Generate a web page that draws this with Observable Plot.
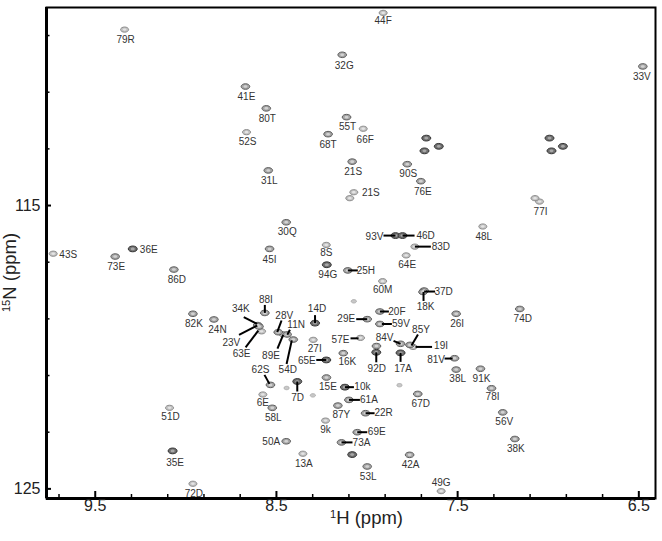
<!DOCTYPE html>
<html><head><meta charset="utf-8">
<script src="https://cdn.jsdelivr.net/npm/d3@7"></script>
<script src="https://cdn.jsdelivr.net/npm/@observablehq/plot@0.6"></script>
<style>
body{margin:0;background:#fff;}
#chart svg{display:block;font-family:"Liberation Sans",Arial,Helvetica,sans-serif;}
</style>
</head><body><div id="chart"></div>
<script>
// ---------------- DATA ----------------
const residue = ["79R","41E","80T","52S","31L","30Q","43S","36E","73E","45I",
  "8S","68T","86D","44F","32G","33V","55T","66F","21S","90S",
  "76E","21S","","77I","","48L","93V","46D","83D","64E",
  "25H","94G","60M","37D","18K","20F","29E","59V","26I","74D",
  "57E","84V","85Y","19I","92D","","17A","16K","81V","38L",
  "91K","10k","15E","61A","87Y","22R","9k","69E","73A","",
  "53L","13A","50A","58L","6E","7D","62S","","","88I",
  "14D","34K","23V","63E","28V","89E","11N","54D","27I","65E",
  "82K","24N","51D","35E","72D","67D","78I","56V","38K","42A",
  "49G","","","","","","","",""];
const hPPM = [9.338,8.671,8.556,8.665,8.545,8.446,9.732,9.293,9.390,8.538,
  8.225,8.215,9.066,7.911,8.137,6.478,8.113,8.021,8.082,7.778,
  7.703,8.073,8.095,7.048,7.073,7.361,7.843,7.804,7.736,7.784,
  8.106,8.222,7.914,7.685,7.691,7.929,7.999,7.929,7.508,7.157,
  8.036,7.815,7.763,7.746,7.949,7.948,7.815,8.131,7.517,7.508,
  7.374,8.122,8.224,8.100,8.161,8.008,8.229,8.054,8.141,8.082,
  7.999,8.354,8.446,8.523,8.575,8.385,8.533,8.444,8.299,8.564,
  8.287,8.603,8.596,8.582,8.490,8.464,8.441,8.407,8.297,8.225,
  8.961,8.845,9.090,9.073,8.961,7.720,7.313,7.251,7.184,7.765,
  7.591,7.821,8.073,7.673,7.604,7.683,6.993,6.919,6.982];
const nPPM = [108.79,110.80,111.57,112.41,113.76,115.59,116.70,116.53,116.80,116.53,
  116.39,112.48,117.26,108.20,109.68,110.09,111.88,112.29,113.45,113.54,
  114.14,114.53,114.74,114.86,114.74,115.74,116.06,116.06,116.45,116.76,
  117.29,117.09,117.67,118.00,118.05,118.74,119.01,119.18,118.82,118.65,
  119.67,119.88,119.92,119.99,120.18,119.96,120.20,120.21,120.39,120.79,
  120.76,121.41,121.07,121.86,122.06,122.33,122.59,123.00,123.36,123.79,
  124.21,123.76,123.32,122.14,121.67,121.21,121.33,121.44,121.70,118.79,
  119.15,119.22,119.27,119.44,119.47,119.54,119.55,119.73,119.74,120.45,
  118.82,119.02,122.14,123.66,124.82,121.65,121.45,122.30,123.24,123.80,
  125.08,121.34,118.38,112.62,112.91,113.07,112.62,112.91,113.07];
// peak intensity class: 0 trace, 1 weak, 2 medium, 3 strong
const intensity = [1,2,2,1,2,2,1,3,2,2,
  1,2,2,1,2,2,2,1,2,2,
  2,1,1,1,1,1,3,3,1,1,
  2,3,1,2,2,2,2,2,2,2,
  1,2,2,1,3,2,3,2,2,2,
  2,3,2,2,2,2,1,2,2,3,
  2,1,2,2,1,3,2,0,0,2,
  3,2,2,1,2,1,2,2,1,3,
  2,2,1,3,1,2,2,2,2,2,
  1,0,0,3,3,3,3,3,3];
const xTickValues = [9.7,9.5,9.3,9.1,8.9,8.7,8.5,8.3,8.1,7.9,7.7,7.5,7.3,7.1,6.9,6.7,6.5];
const xTickLabels = [9.5,8.5,7.5,6.5];
const yTickValues = [109,111,113,115,117,119,121,123,125];
const yTickLabels = [115,125];
const xTitle = "1H (ppm)";
const yTitle = "15N (ppm)";

// ---------------- LAYOUT ----------------
const W = 662, H = 541, mL = 46, mR = 7, mT = 7, mB = 43;
const xDomain = [6.408, 9.769], yDomain = [108.01, 125.34];
const frameW = W - mL - mR, frameH = H - mT - mB;
const hPerPx = (xDomain[1] - xDomain[0]) / frameW;
const nPerPx = (yDomain[1] - yDomain[0]) / frameH;

// label nudges in px relative to the peak (default: centred below)
const defaultNudge = [1, 10];
const labelNudge = {
  "43S":[15,1],"36E":[16,1],"8S":[0,8],"44F":[0,7.5],"21S#2":[17,1],
  "93V":[-21,1],"46D":[23,0],"83D":[26,0],"25H":[18,0],"37D":[19.5,1],
  "18K":[2.5,15],"20F":[17,0],"29E":[-21,0],"59V":[21,0],"57E":[-20,2],
  "84V":[-16,-6],"85Y":[11,-15],"19I":[28,-1],"92D":[0.5,16],"17A":[2.5,15.5],
  "81V":[-18.5,1.5],"10k":[17.5,0],"61A":[20,0],"22R":[18,0],"69E":[19.5,0],
  "73A":[20,0],"50A":[-15,1],"6E":[0,8],"7D":[0.3,16.5],"62S":[-10,-15.5],
  "88I":[1,-13.5],"14D":[2,-14],"34K":[-17,-16],"23V":[-27.7,16],"63E":[-20,22],
  "28V":[6,-16.5],"89E":[-12,22],"11N":[9,-9.5],"54D":[-5.5,30],"65E":[-19.5,0.4],
  "49G":[0,-8],"35E":[2.5,11.5],"15E":[1.5,9.5],"16K":[4,9],"24N":[3.5,10.5],
  "87Y":[3.5,9.5],"9k":[0,9],"60M":[0,9],"64E":[1,9],"51D":[1,9],"78I":[1,9],
  "56V":[1.5,9],"38L":[1.5,9],"27I":[1.5,9],"74D":[3,10],"67D":[3,10],"86D":[3,10],
  "32G":[2,11],"66F":[2,11],"76E":[2,11],"45I":[0,10.5],"68T":[0,10.5],"33V":[-1,10]
};
// leader lines in px relative to the peak [x1,y1,x2,y2]
const leaderNudge = {
  "93V":[-12,0,0,0],"46D":[0,0,12,0],"83D":[0,0,16,0],"25H":[0,0,10,0],
  "37D":[0,1,11,1],"18K":[0.5,0,0.5,9],"20F":[0,0,9,0],"29E":[-11,0,0,0],
  "59V":[2,0,12,0],"57E":[-10,0.5,-2,0.5],"84V":[-7,-3,0,0],"85Y":[8,-10.5,1.5,0.5],
  "19I":[2.5,0,19,0],"92D":[0,0,0,10],"17A":[0,0,0,9],"81V":[-10,0.3,-2,0.3],
  "10k":[0,0,9,0],"61A":[0,0,11,0],"22R":[0,0,9,0],"69E":[0,0,10,0],"73A":[0,0,11,0],
  "7D":[0,0,0,10],"62S":[-6,-10,-1,-1],"88I":[0,-8,0,0],"14D":[0,-8,0,0],
  "34K":[-14,-8,-0.6,-1.2],"23V":[-20,8.3,-1.8,-1],"63E":[-16,16,-3.3,-0.7],
  "28V":[3.3,-11.7,-1,0],"89E":[-5.5,14.5,0.2,0.8],"11N":[2.8,-4.7,0.2,0.3],
  "54D":[-6.7,24.5,-1.5,0.8],"65E":[-10,0,0,0]
};

// ---------------- BUILD ----------------
const seen = {};
const peaks = residue.map((r, i) => {
  let key = r;
  if (r) { seen[r] = (seen[r] || 0) + 1; if (seen[r] > 1) key = r + "#" + seen[r]; }
  return {r, key, h: hPPM[i], n: nPPM[i], k: intensity[i]};
});
const px2h = (p, dx) => p.h - dx * hPerPx;
const px2n = (p, dy) => p.n + dy * nPerPx;

const labels = peaks.filter(p => p.r).map(p => {
  const [dx, dy] = labelNudge[p.key] || defaultNudge;
  return {t: p.r, x: px2h(p, dx), y: px2n(p, dy)};
});
const leaders = peaks.filter(p => leaderNudge[p.key]).map(p => {
  const [a, b, c, d] = leaderNudge[p.key];
  return {x1: px2h(p, a), y1: px2n(p, b), x2: px2h(p, c), y2: px2n(p, d)};
});

function ellipse(aspect) {
  return {draw(ctx, size) {
    const R = Math.sqrt(size / Math.PI), rx = R * aspect, ry = R;
    const k = 0.5523, kx = k * rx, ky = k * ry;
    ctx.moveTo(rx, 0);
    ctx.bezierCurveTo(rx, ky, kx, ry, 0, ry);
    ctx.bezierCurveTo(-kx, ry, -rx, ky, -rx, 0);
    ctx.bezierCurveTo(-rx, -ky, -kx, -ry, 0, -ry);
    ctx.bezierCurveTo(kx, -ry, rx, -ky, rx, 0);
    ctx.closePath();
  }};
}
const ell = ellipse(1.55);
const peakStyle = {
  0: {r: 1.7, fill: "#c8c8c8", stroke: "#b0b0b0", inner: null},
  1: {r: 2.6, fill: "#c2c2c2", stroke: "#8c8c8c", inner: "#e4e4e4"},
  2: {r: 2.8, fill: "#a4a4a4", stroke: "#5e5e5e", inner: "#d2d2d2"},
  3: {r: 2.9, fill: "#6e6e6e", stroke: "#353535", inner: "#a8a8a8"}
};
const peakMarks = [];
for (const k of [0, 1, 2, 3]) {
  const s = peakStyle[k];
  const data = peaks.filter(p => p.k === k);
  peakMarks.push(Plot.dot(data, {x: "h", y: "n", r: s.r, symbol: ell, fill: s.fill, stroke: s.stroke, strokeWidth: 1}));
  if (s.inner) peakMarks.push(Plot.dot(data, {x: "h", y: "n", r: s.r * 0.45, symbol: ell, fill: s.inner, stroke: "none"}));
}

const isMajorX = v => xTickLabels.some(t => Math.abs(t - v) < 1e-6);
const isMajorY = v => yTickLabels.includes(v);

const chart = Plot.plot({
  width: W, height: H,
  marginLeft: mL, marginRight: mR, marginTop: mT, marginBottom: mB,
  x: {domain: xDomain, reverse: true, axis: null},
  y: {domain: yDomain, reverse: true, axis: null},
  style: {fontFamily: '"Liberation Sans", Arial, Helvetica, sans-serif', background: "#fff"},
  marks: [
    ...peakMarks,
    Plot.link(leaders, {x1: "x1", y1: "y1", x2: "x2", y2: "y2", stroke: "#000", strokeWidth: 2}),
    Plot.text(labels, {x: "x", y: "y", text: "t", fontSize: 10, fill: "#333"}),
    Plot.frame({stroke: "#000", strokeWidth: 2}),
    Plot.ruleX([xDomain[1]], {stroke: "#000", strokeWidth: 3}),
    Plot.ruleY([yDomain[1]], {stroke: "#000", strokeWidth: 3}),
    Plot.tickX(xTickValues.filter(v => !isMajorX(v)), {x: d => d, insetTop: frameH - 4, stroke: "#000", strokeWidth: 1.5}),
    Plot.tickX(xTickValues.filter(isMajorX), {x: d => d, insetTop: frameH - 7, stroke: "#000", strokeWidth: 2}),
    Plot.tickY(yTickValues.filter(v => !isMajorY(v)), {y: d => d, insetRight: frameW - 3.5, stroke: "#000", strokeWidth: 1.5}),
    Plot.tickY(yTickValues.filter(isMajorY), {y: d => d, insetRight: frameW - 5, stroke: "#000", strokeWidth: 2}),
    Plot.text(xTickLabels, {x: d => d, frameAnchor: "bottom", dy: 12, text: d => d.toFixed(1), fontSize: 16, fill: "#222"}),
    Plot.text(yTickLabels, {y: d => d, frameAnchor: "left", dx: -6, textAnchor: "end", text: d => String(d), fontSize: 16, fill: "#222"}),
    Plot.text([xTitle], {frameAnchor: "bottom", textAnchor: "middle", dx: 15.5, dy: 25, text: d => d, fontSize: 18.5, fill: "#222"}),
    Plot.text([yTitle], {frameAnchor: "left", textAnchor: "middle", rotate: -90, dx: -36, dy: 19.5, text: d => d, fontSize: 18.5, fill: "#222"})
  ]
});
document.getElementById("chart").appendChild(chart);

// superscript isotope numbers in the axis titles
d3.select(chart).selectAll("text").each(function() {
  const t = this.textContent;
  let sup = null, rest = null;
  if (t === xTitle) { sup = "1"; rest = "H (ppm)"; }
  else if (t === yTitle) { sup = "15"; rest = "N (ppm)"; }
  if (!sup) return;
  const sel = d3.select(this);
  sel.text(null);
  sel.append("tspan").attr("font-size", "0.6em").attr("baseline-shift", "super").text(sup);
  sel.append("tspan").text(rest);
});
</script>
</body></html>
